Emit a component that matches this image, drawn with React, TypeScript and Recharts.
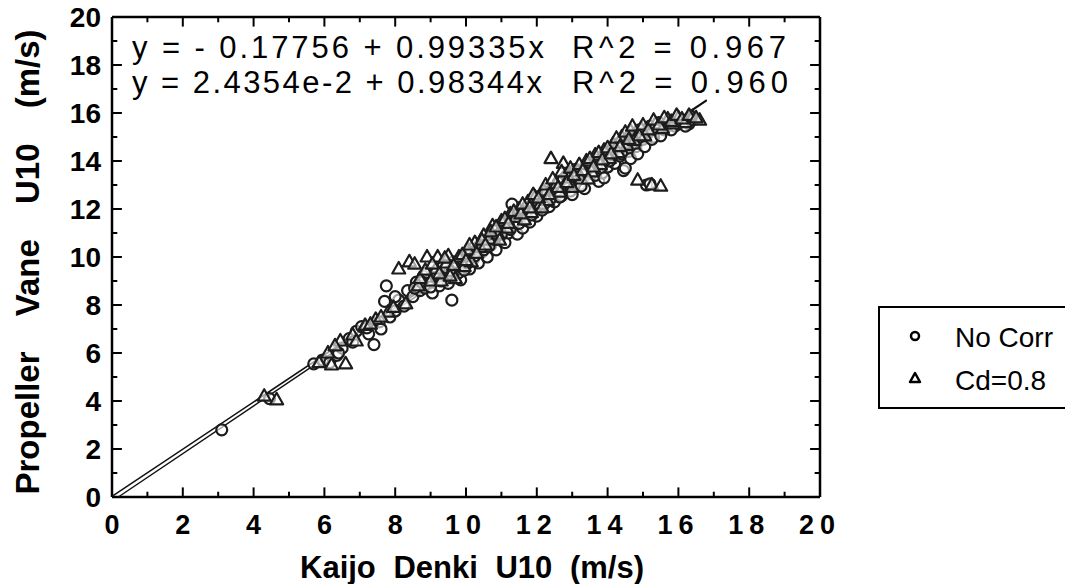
import React from "react";
import { Customized, ReferenceLine, Scatter, ScatterChart, XAxis, YAxis } from "recharts";

// Kaijo Denki U10 vs Propeller Vane U10 (m/s)
const noCorrPoints: [number, number][] = [
  [3.1, 2.8], [4.45, 4.1], [5.7, 5.55], [5.95, 5.7], [6.15, 5.6], [6.35, 5.9], [6.5, 6.2],
  [6.7, 6.6], [6.9, 6.9], [7.05, 7.1], [7.25, 6.8], [7.4, 6.35], [7.55, 7.3], [7.7, 8.15],
  [7.75, 8.8], [7.85, 7.5], [8.0, 7.75], [8.1, 8.2], [8.25, 7.95], [8.35, 8.6], [8.5, 8.35],
  [8.6, 8.95], [8.7, 8.6], [8.8, 9.2], [8.85, 8.7], [8.95, 9.0], [9.05, 8.5], [9.1, 9.35],
  [9.2, 9.1], [9.25, 8.8], [9.35, 9.6], [9.4, 9.2], [9.5, 8.9], [9.55, 9.45], [9.6, 8.2],
  [9.65, 9.8], [9.75, 9.3], [9.85, 9.05], [9.9, 9.7], [10.0, 10.05], [10.1, 9.5], [10.2, 9.9],
  [10.3, 10.35], [10.35, 9.75], [10.45, 10.2], [10.55, 10.65], [10.6, 10.0], [10.7, 10.5],
  [10.8, 11.05], [10.85, 10.3], [10.95, 10.8], [11.05, 11.3], [11.1, 10.6], [11.2, 11.0],
  [11.3, 12.2], [11.35, 11.45], [11.45, 10.95], [11.55, 11.7], [11.6, 11.2], [11.7, 11.9],
  [11.8, 11.45], [11.9, 12.15], [12.0, 11.7], [12.05, 12.4], [12.15, 11.95], [12.25, 12.6],
  [12.35, 12.1], [12.45, 12.85], [12.5, 12.3], [12.6, 13.1], [12.7, 12.55], [12.8, 12.95],
  [12.85, 13.4], [12.95, 12.75], [13.05, 13.2], [13.1, 13.65], [13.2, 13.0], [13.3, 13.45],
  [13.35, 12.85], [13.45, 13.8], [13.5, 13.3], [13.6, 13.6], [13.7, 14.05], [13.75, 13.15],
  [13.85, 13.5], [13.95, 14.2], [14.0, 13.75], [14.1, 14.45], [14.2, 13.9], [14.25, 14.7],
  [14.35, 14.2], [14.45, 13.6], [14.5, 14.9], [14.6, 14.4], [14.7, 15.1], [14.8, 14.6],
  [14.9, 15.3], [15.0, 14.9], [15.1, 13.0], [15.2, 15.45], [15.3, 15.0], [15.45, 15.6],
  [15.6, 15.3], [15.75, 15.65], [15.9, 15.45], [16.1, 15.7], [16.3, 15.55], [16.45, 15.75],
  [8.55, 8.7], [8.75, 8.95], [8.9, 9.35], [9.0, 8.75], [9.15, 9.15], [9.3, 9.0], [9.45, 9.55],
  [9.6, 9.25], [9.7, 9.55], [9.8, 9.35], [9.95, 9.45], [10.05, 9.75], [10.15, 10.25],
  [10.25, 10.05], [10.4, 10.5], [10.5, 10.3], [10.65, 10.45], [10.75, 10.75], [10.9, 11.2],
  [11.0, 10.95], [11.15, 11.35], [11.25, 11.15], [11.4, 11.75], [11.5, 11.4], [11.65, 11.55],
  [11.75, 12.05], [11.85, 11.75], [12.0, 12.1], [12.1, 12.55], [12.2, 12.2], [12.3, 12.7],
  [12.4, 12.45], [12.55, 12.75], [12.65, 12.5], [12.75, 13.25], [12.9, 13.05], [13.0, 12.6],
  [13.15, 13.4], [13.25, 12.95], [13.4, 13.6], [13.55, 13.85], [13.65, 13.4], [13.8, 13.7],
  [13.9, 13.3], [14.05, 14.0], [14.15, 14.25], [14.3, 14.55], [14.4, 14.3], [14.55, 14.75],
  [14.65, 14.1], [14.75, 14.95], [14.85, 14.3], [14.95, 15.15], [15.05, 14.6], [15.15, 15.2],
  [15.25, 14.9], [15.4, 15.35], [15.5, 15.05], [15.65, 15.5], [15.8, 15.3], [16.0, 15.55],
  [16.2, 15.45], [16.35, 15.7], [15.2, 13.05], [14.5, 13.7], [6.4, 6.0], [6.8, 6.45],
  [7.2, 7.05], [7.6, 7.0], [8.0, 8.35],
];

const cd08Points: [number, number][] = [
  [4.3, 4.2], [4.65, 4.05], [5.85, 5.6], [6.2, 5.5], [6.6, 5.55], [6.45, 6.5], [6.8, 6.75],
  [7.15, 7.15], [7.45, 7.4], [7.8, 7.7], [8.1, 9.5], [8.3, 8.05], [8.4, 9.8], [8.55, 9.7],
  [8.65, 8.8], [8.9, 10.0], [9.0, 9.0], [9.15, 9.5], [9.2, 10.0], [9.3, 9.0], [9.45, 9.75],
  [9.5, 10.05], [9.6, 9.4], [9.7, 9.1], [9.8, 10.0], [9.95, 9.6], [10.05, 10.3], [10.15, 9.8],
  [10.25, 10.6], [10.4, 10.4], [10.5, 10.9], [10.65, 10.75], [10.75, 11.3], [10.9, 10.95],
  [11.0, 11.5], [11.15, 11.2], [11.25, 11.8], [11.4, 11.65], [11.5, 12.0], [11.65, 11.55],
  [11.75, 12.3], [11.85, 11.85], [11.95, 12.5], [12.1, 12.2], [12.2, 12.75], [12.3, 12.35],
  [12.4, 14.1], [12.55, 13.05], [12.65, 12.7], [12.75, 13.9], [12.9, 13.3], [13.0, 12.9],
  [13.15, 13.55], [13.25, 13.25], [13.4, 14.0], [13.55, 13.55], [13.65, 14.25], [13.8, 13.85],
  [13.9, 14.45], [14.05, 14.1], [14.15, 14.7], [14.3, 14.35], [14.4, 15.0], [14.55, 14.65],
  [14.65, 15.25], [14.75, 14.85], [14.85, 13.2], [14.95, 15.35], [15.05, 15.05], [15.25, 13.0],
  [15.35, 15.55], [15.5, 12.95], [15.55, 15.35], [15.7, 15.75], [15.85, 15.55], [16.0, 15.8],
  [16.2, 15.6], [16.4, 15.85], [16.6, 15.7],
  [8.7, 9.1], [8.85, 9.45], [9.05, 9.7], [9.25, 9.3], [9.4, 9.95], [9.55, 9.2], [9.65, 9.65],
  [9.9, 10.1], [10.0, 9.85], [10.1, 10.5], [10.3, 10.15], [10.45, 10.7], [10.55, 10.5],
  [10.7, 11.05], [10.85, 11.25], [10.95, 10.7], [11.1, 11.6], [11.2, 11.4], [11.35, 11.9],
  [11.55, 11.8], [11.6, 12.2], [11.8, 12.05], [11.9, 12.6], [12.05, 12.45], [12.15, 12.05],
  [12.25, 13.0], [12.35, 12.6], [12.45, 13.25], [12.6, 12.9], [12.7, 13.55], [12.85, 13.1],
  [12.95, 13.7], [13.05, 13.4], [13.2, 13.85], [13.3, 13.6], [13.45, 13.25], [13.5, 14.1],
  [13.6, 13.75], [13.75, 14.35], [13.85, 14.05], [14.0, 14.55], [14.1, 14.3], [14.25, 14.95],
  [14.35, 14.6], [14.5, 15.2], [14.6, 14.9], [14.7, 15.45], [14.9, 15.05], [15.0, 15.5],
  [15.15, 15.3], [15.3, 15.7], [15.45, 15.5], [15.6, 15.8], [15.8, 15.65], [15.95, 15.9],
  [16.1, 15.75], [16.3, 15.9], [16.5, 15.8], [6.1, 6.0], [6.3, 6.3], [6.9, 6.5], [7.3, 7.2],
  [7.6, 7.5], [7.95, 7.9],
];

// regression fits: intercept, slope, R^2
const noCorrFit = { a: -0.17756, b: 0.99335, r2: "0.967" };
const cd08Fit = { a: 2.4354e-2, b: 0.98344, r2: "0.960" };
const fitEndX = 16.8;

const axisTicks = [0, 1, 2, 3, 4, 5, 6, 7, 8, 9, 10, 11, 12, 13, 14, 15, 16, 17, 18, 19, 20];
const axisMax = 20;

const FONT = "'Liberation Sans', Arial, Helvetica, sans-serif";

const toXY = (pts: [number, number][]) => pts.map(([x, y]) => ({ x, y }));

const noCorrLine = [
  { x: -noCorrFit.a / noCorrFit.b, y: 0 },
  { x: fitEndX, y: noCorrFit.a + noCorrFit.b * fitEndX },
];
const cd08Line = [
  { x: 0, y: cd08Fit.a },
  { x: fitEndX, y: cd08Fit.a + cd08Fit.b * fitEndX },
];

// inward tick length, in axis units (major = every 2)
const tickX = (v: number) => (v % 2 === 0 ? 0.28 : 0.15);
const tickY = (v: number) => (v % 2 === 0 ? 0.4 : 0.22);

const MARK_STROKE = "#1c1c1c";

// semi-opaque fill so the dense middle of the band greys over like the scan
const CircleMark = (p: any) => (
  <circle cx={p.cx} cy={p.cy} r={5.5} fill="#fff" fillOpacity={0.6} stroke={MARK_STROKE} strokeWidth={2.2} />
);

const TriMark = (p: any) => (
  <path
    d={`M${p.cx},${p.cy - 7}L${p.cx + 6.5},${p.cy + 4.5}L${p.cx - 6.5},${p.cy + 4.5}Z`}
    fill="#fff"
    fillOpacity={0.6}
    stroke={MARK_STROKE}
    strokeWidth={2.2}
    strokeLinejoin="round"
  />
);

const NoMark = () => <g />;

function BottomTick({ x, y, payload }: any) {
  const v = payload.value;
  if (v % 2 !== 0) return <g />;
  return (
    <text
      x={x}
      y={y + 37}
      textAnchor="middle"
      fontFamily={FONT}
      fontWeight="bold"
      fontSize={27}
      letterSpacing={v >= 10 ? 6 : 0}
      fill="#000"
    >
      {String(v)}
    </text>
  );
}

function LeftTick({ x, y, payload }: any) {
  const v = payload.value;
  if (v % 2 !== 0) return <g />;
  return (
    <text x={x - 11} y={y + 10} textAnchor="end" fontFamily={FONT} fontWeight="bold" fontSize={28} fill="#000">
      {String(v)}
    </text>
  );
}

function Annotations() {
  const eq = { fontFamily: FONT, fontSize: 31, fill: "#000" };
  return (
    <g>
      <text x={132} y={58} {...eq} textLength={412} lengthAdjust="spacing">
        {`y =  - 0.17756 + ${noCorrFit.b}x`}
      </text>
      <text x={572} y={58} {...eq} textLength={214} lengthAdjust="spacing">
        {`R^2 = ${noCorrFit.r2}`}
      </text>
      <text x={132} y={93} {...eq} textLength={410} lengthAdjust="spacing">
        {`y = 2.4354e-2 + ${cd08Fit.b}x`}
      </text>
      <text x={572} y={93} {...eq} textLength={216} lengthAdjust="spacing">
        {`R^2 = ${cd08Fit.r2}`}
      </text>

      {/* legend box */}
      <rect x={879} y={307} width={200} height={101} fill="#fff" stroke="#000" strokeWidth={2} />
      <circle cx={915} cy={336} r={4} fill="#fff" stroke="#000" strokeWidth={2.5} />
      <text x={955} y={347} fontFamily={FONT} fontSize={28} fill="#000">No Corr</text>
      <path d="M915,373L920,382L910,382Z" fill="#fff" stroke="#000" strokeWidth={2.5} strokeLinejoin="round" />
      <text x={955} y={390} fontFamily={FONT} fontSize={28} fill="#000">Cd=0.8</text>

      {/* axis titles */}
      <text
        x={472}
        y={578}
        textAnchor="middle"
        fontFamily={FONT}
        fontWeight="bold"
        fontSize={31}
        wordSpacing={9}
        fill="#000"
      >
        Kaijo Denki U10 (m/s)
      </text>
      <text
        transform="translate(39 262) rotate(-90)"
        textAnchor="middle"
        fontFamily={FONT}
        fontWeight="bold"
        fontSize={33}
        wordSpacing={26}
        fill="#000"
      >
        Propeller Vane U10 (m/s)
      </text>
    </g>
  );
}

const frame = { stroke: "#000", strokeWidth: 2.5 };
const tickStroke = { stroke: "#000", strokeWidth: 2 };

export default function App() {
  return (
    <div style={{ position: "absolute", left: 0, top: 0, width: 1065, height: 584, background: "#fff" }}>
      <ScatterChart width={1065} height={584} margin={{ top: 17, right: 245, bottom: 47, left: 52 }}>
        <XAxis
          type="number"
          dataKey="x"
          domain={[0, axisMax]}
          ticks={axisTicks}
          interval={0}
          height={40}
          tickSize={0}
          tickMargin={0}
          tickLine={false}
          axisLine={frame}
          tick={<BottomTick />}
        />
        <YAxis
          type="number"
          dataKey="y"
          domain={[0, axisMax]}
          ticks={axisTicks}
          interval={0}
          width={60}
          tickSize={0}
          tickMargin={0}
          tickLine={false}
          axisLine={frame}
          tick={<LeftTick />}
        />

        {/* top and right frame */}
        <ReferenceLine y={axisMax} {...frame} ifOverflow="visible" />
        <ReferenceLine x={axisMax} {...frame} ifOverflow="visible" />

        {/* inward ticks on all four sides */}
        {axisTicks.map((v) => (
          <ReferenceLine key={`b${v}`} segment={[{ x: v, y: 0 }, { x: v, y: tickY(v) }]} {...tickStroke} ifOverflow="visible" />
        ))}
        {axisTicks.map((v) => (
          <ReferenceLine key={`t${v}`} segment={[{ x: v, y: axisMax }, { x: v, y: axisMax - tickY(v) }]} {...tickStroke} ifOverflow="visible" />
        ))}
        {axisTicks.map((v) => (
          <ReferenceLine key={`l${v}`} segment={[{ x: 0, y: v }, { x: tickX(v), y: v }]} {...tickStroke} ifOverflow="visible" />
        ))}
        {axisTicks.map((v) => (
          <ReferenceLine key={`r${v}`} segment={[{ x: axisMax, y: v }, { x: axisMax - tickX(v), y: v }]} {...tickStroke} ifOverflow="visible" />
        ))}

        <Scatter
          data={noCorrLine}
          line={{ stroke: "#111", strokeWidth: 1.5 }}
          lineType="joint"
          shape={NoMark}
          isAnimationActive={false}
        />
        <Scatter
          data={cd08Line}
          line={{ stroke: "#111", strokeWidth: 1.5 }}
          lineType="joint"
          shape={NoMark}
          isAnimationActive={false}
        />
        <Scatter name="No Corr" data={toXY(noCorrPoints)} shape={CircleMark} isAnimationActive={false} />
        <Scatter name="Cd=0.8" data={toXY(cd08Points)} shape={TriMark} isAnimationActive={false} />
        <Customized component={<Annotations />} />
      </ScatterChart>
    </div>
  );
}
